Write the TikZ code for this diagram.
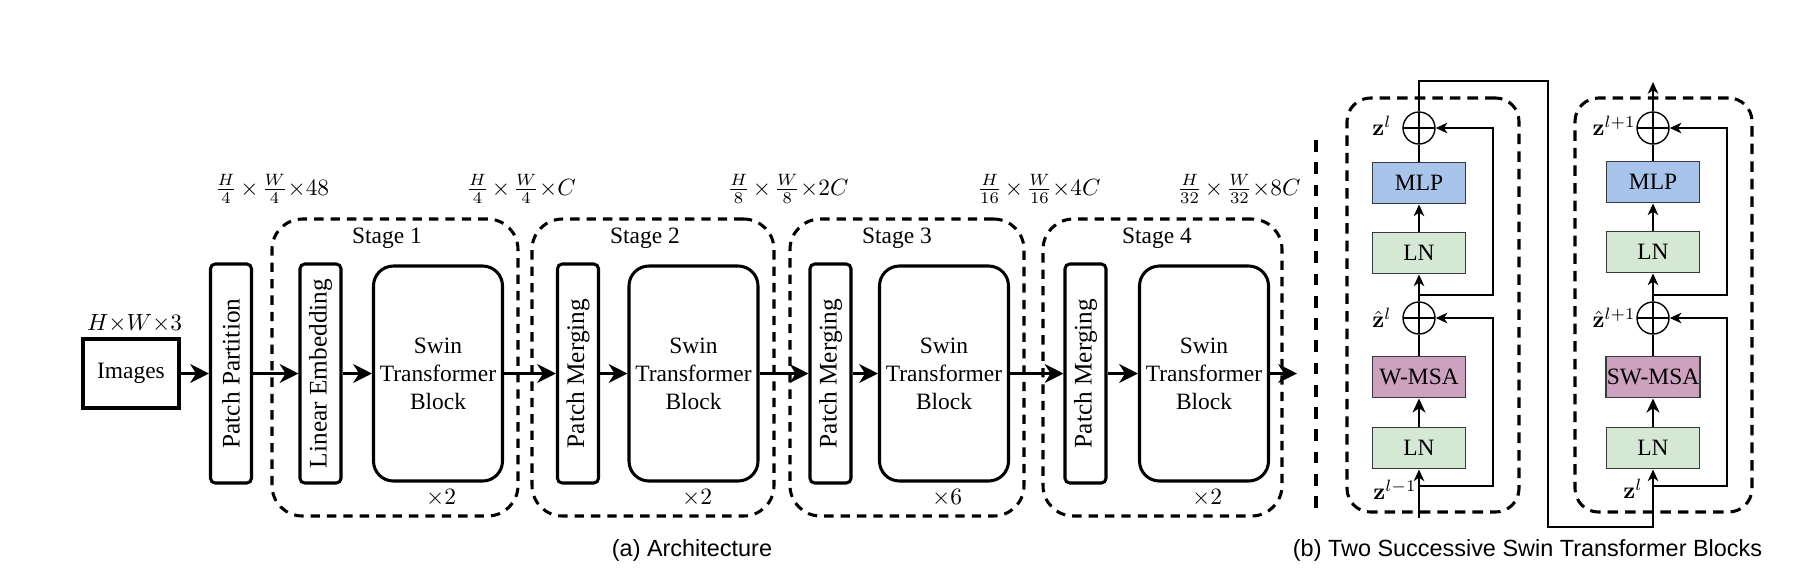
\documentclass[tikz,border=0pt]{standalone}
\usepackage{amsmath, amssymb}
\usepackage[no-math]{fontspec}
\setmainfont{Liberation Serif}
\newfontfamily\capfont{Liberation Sans}
\usetikzlibrary{arrows.meta}
\usetikzlibrary{calc}

\newcommand{\pxu}{0.015cm}
\newcommand{\tx}{\mkern-1.5mu\times\mkern-1.5mu}
\definecolor{mlpblue}{HTML}{A9C4EB}
\definecolor{lngreen}{HTML}{D5E8D4}
\definecolor{msapink}{HTML}{CDA2BE}
\definecolor{boxedge}{HTML}{36393D}

\tikzset{
	plainbox/.style={draw, line width=1.3pt, minimum width=96*\pxu, minimum height=69*\pxu, inner sep=0pt},
	tallbox/.style={draw, line width=1.3pt, rounded corners=2pt, rotate=90, minimum width=219*\pxu, minimum height=41*\pxu, inner sep=0pt, font=\fontsize{10.8}{13}\selectfont},
	swinbox/.style={draw, line width=1.3pt, rounded corners=8.5pt, minimum width=129*\pxu, minimum height=215*\pxu, inner sep=0pt, align=center},
	stagebox/.style={draw, line width=1.3pt, dash pattern=on 4pt off 3pt, rounded corners=13pt, inner sep=0pt},
	flow/.style={line width=1.3pt, -{Stealth[length=8pt, width=8pt, inset=2.5pt]}},
	layerbox/.style={draw=boxedge, line width=0.8pt, minimum width=93*\pxu, minimum height=41*\pxu, inner sep=1pt},
	addnode/.style={draw, circle, line width=0.6pt, minimum size=32*\pxu, inner sep=0pt,
		path picture={\draw[line width=0.6pt] (path picture bounding box.north) -- (path picture bounding box.south)
			(path picture bounding box.west) -- (path picture bounding box.east);}},
	blockbox/.style={draw, line width=1.3pt, dash pattern=on 4.5pt off 3pt, rounded corners=10pt, inner sep=0pt},
	link/.style={line width=0.6pt},
	linkarr/.style={line width=0.6pt, -{Stealth[length=5pt, width=4.5pt, inset=1.5pt]}},
	boldarr/.style={line width=1.2pt, -{Stealth[length=6pt, width=5.5pt, inset=1.8pt]}},
	zlab/.style={anchor=east, inner sep=0pt}
}

\begin{document}
\begin{tikzpicture}[x=\pxu, y=-\pxu]
	\useasboundingbox (0,0) rectangle (1819,571);

	% (a) architecture
	\node[stagebox, minimum width=246*\pxu, minimum height=297*\pxu] (stA) at (395,367.5) {};
	\node[stagebox, minimum width=242*\pxu, minimum height=297*\pxu] (stB) at (653,367.5) {};
	\node[stagebox, minimum width=234*\pxu, minimum height=297*\pxu] (stC) at (907,367.5) {};
	\node[stagebox, minimum width=239*\pxu, minimum height=297*\pxu] (stD) at (1162.5,367.5) {};
	\node (stAlab) at (387,238.5) {Stage 1};
	\node (stBlab) at (645,238.5) {Stage 2};
	\node (stClab) at (897,238.5) {Stage 3};
	\node (stDlab) at (1157,238.5) {Stage 4};

	\node[plainbox] (img) at (131,373.5) {Images};
	\node (imgdim) at (134.5,323.5) {$H{\times}W{\times}3$};
	\node[tallbox] (part) at (231,373.5) {Patch Partition};
	\node[tallbox] (embed) at (320.5,373.5) {Linear Embedding};
	\node[swinbox] (swA) at (438,373.5) {Swin\\Transformer\\Block};
	\node[tallbox] (mergeB) at (578,373.5) {Patch Merging};
	\node[swinbox] (swB) at (693.5,373.5) {Swin\\Transformer\\Block};
	\node[tallbox] (mergeC) at (830.5,373.5) {Patch Merging};
	\node[swinbox] (swC) at (944,373.5) {Swin\\Transformer\\Block};
	\node[tallbox] (mergeD) at (1085.5,373.5) {Patch Merging};
	\node[swinbox] (swD) at (1204,373.5) {Swin\\Transformer\\Block};
	\coordinate (archout) at (1297,373.5);

	\node (repA) at (441,498) {$\times2$};
	\node (repB) at (697,498) {$\times2$};
	\node (repC) at (947,498) {$\times6$};
	\node (repD) at (1207,498) {$\times2$};

	\node (dimA) at (272,189) {$\frac{H}{4}\tx\frac{W}{4}{\times}48$};
	\node (dimB) at (521,189) {$\frac{H}{4}\tx\frac{W}{4}{\times}C$};
	\node (dimC) at (788,189) {$\frac{H}{8}\tx\frac{W}{8}{\times}2C$};
	\node (dimD) at (1039,189) {$\frac{H}{16}\tx\frac{W}{16}{\times}4C$};
	\node (dimE) at (1239,189) {$\frac{H}{32}\tx\frac{W}{32}{\times}8C$};

	\draw[flow] (img) -- (part);
	\draw[flow] (part) -- (embed);
	\draw[flow] (embed) -- (swA);
	\draw[flow] (swA) -- (mergeB);
	\draw[flow] (mergeB) -- (swB);
	\draw[flow] (swB) -- (mergeC);
	\draw[flow] (mergeC) -- (swC);
	\draw[flow] (swC) -- (mergeD);
	\draw[flow] (mergeD) -- (swD);
	\draw[flow] (swD) -- (archout);

	\node[font=\capfont] (capA) at (692,550) {(a) Architecture};

	% separator
	\draw[line width=1.8pt, dash pattern=on 5pt off 4.5pt] (1316,140) -- (1316,515);

	% (b) two successive blocks
	\node[blockbox, minimum width=172*\pxu, minimum height=414*\pxu] (blkA) at (1433,305) {};
	\node[blockbox, minimum width=177*\pxu, minimum height=414*\pxu] (blkB) at (1663.5,305) {};

	\node[layerbox, fill=mlpblue] (mlpA) at (1419,183) {MLP};
	\node[layerbox, fill=lngreen] (lnAtop) at (1419,253) {LN};
	\node[layerbox, fill=msapink] (msaA) at (1419,377) {W-MSA};
	\node[layerbox, fill=lngreen] (lnAbot) at (1419,448) {LN};
	\node[addnode] (addAtop) at (1419,128) {};
	\node[addnode] (addAbot) at (1419,318) {};

	\node[layerbox, fill=mlpblue] (mlpB) at (1653,182) {MLP};
	\node[layerbox, fill=lngreen] (lnBtop) at (1653,252) {LN};
	\node[layerbox, fill=msapink, inner xsep=0.5pt] (msaB) at (1653,377) {SW-MSA};
	\node[layerbox, fill=lngreen] (lnBbot) at (1653,448) {LN};
	\node[addnode] (addBtop) at (1653,128) {};
	\node[addnode] (addBbot) at (1653,318) {};

	\node[zlab] (zAtop) at (1392,126) {$\mathbf{z}^{l}$};
	\node[zlab] (zAmid) at (1392,318) {$\hat{\mathbf{z}}^{l}$};
	\node[zlab] (zAin) at (1417,490) {$\mathbf{z}^{l-1}$};
	\node[zlab] (zBtop) at (1636,126) {$\mathbf{z}^{l+1}$};
	\node[zlab] (zBmid) at (1636,318) {$\hat{\mathbf{z}}^{l+1}$};
	\node[zlab] (zBin) at (1643,489) {$\mathbf{z}^{l}$};

	\coordinate (inA) at (1419,518);
	\coordinate (forkAbot) at (1419,486);
	\coordinate (forkAtop) at (1419,295);
	\coordinate (skipAbot) at (1493,486);
	\coordinate (skipAmid) at (1493,318);
	\coordinate (skipAtop) at (1493,295);
	\coordinate (skipAend) at (1493,128);
	\coordinate (loopA) at (1419,81);
	\coordinate (loopB) at (1548,81);
	\coordinate (loopC) at (1548,527);
	\coordinate (loopD) at (1653,527);
	\coordinate (forkBbot) at (1653,486);
	\coordinate (forkBtop) at (1653,295);
	\coordinate (skipBbot) at (1727,486);
	\coordinate (skipBmid) at (1727,318);
	\coordinate (skipBtop) at (1727,295);
	\coordinate (skipBend) at (1727,128);
	\coordinate (outB) at (1653,82);

	\draw[linkarr] (inA) -- (lnAbot);
	\draw[boldarr] (lnAbot) -- (msaA);
	\draw[link] (msaA) -- (addAbot);
	\draw[linkarr] (addAbot) -- (lnAtop);
	\draw[linkarr] (lnAtop) -- (mlpA);
	\draw[link] (mlpA) -- (addAtop);
	\draw[linkarr] (forkAbot) -- (skipAbot) -- (skipAmid) -- (addAbot);
	\draw[linkarr] (forkAtop) -- (skipAtop) -- (skipAend) -- (addAtop);
	\draw[linkarr] (addAtop) -- (loopA) -- (loopB) -- (loopC) -- (loopD) -- (lnBbot);

	\draw[boldarr] (lnBbot) -- (msaB);
	\draw[link] (msaB) -- (addBbot);
	\draw[linkarr] (addBbot) -- (lnBtop);
	\draw[linkarr] (lnBtop) -- (mlpB);
	\draw[link] (mlpB) -- (addBtop);
	\draw[linkarr] (forkBbot) -- (skipBbot) -- (skipBmid) -- (addBbot);
	\draw[linkarr] (forkBtop) -- (skipBtop) -- (skipBend) -- (addBtop);
	\draw[linkarr] (addBtop) -- (outB);

	\node[font=\capfont] (capB) at (1527.5,550) {(b) Two Successive Swin Transformer Blocks};
\end{tikzpicture}
\end{document}
